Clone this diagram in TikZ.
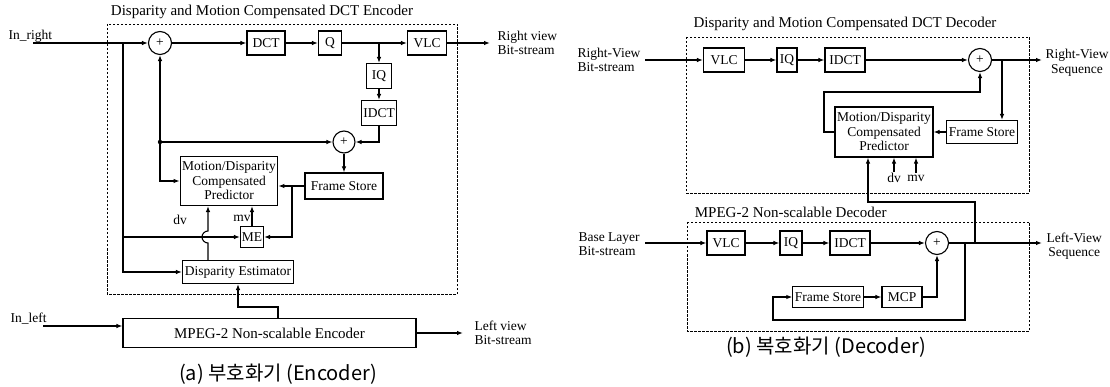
\documentclass[tikz,border=0pt]{standalone}
\usepackage{fontspec}
\setmainfont{Liberation Serif}
\newfontfamily\kor{Noto Sans CJK KR}
\usetikzlibrary{calc, positioning, arrows.meta}

\begin{document}
\begin{tikzpicture}[x=1pt, y=-1pt, >={Latex[length=6pt, width=4.5pt]},
  line width=1.1pt, font=\fontsize{13.5}{14.5}\selectfont,
  blk/.style={draw, inner sep=2pt, minimum height=24pt, align=center},
  sumc/.style={draw, circle, minimum size=23pt, inner sep=0pt},
  grp/.style={draw, line width=0.9pt, dash pattern=on 2.5pt off 1.5pt},
  ttl/.style={font=\fontsize{15}{16}\selectfont},
  lbl/.style={align=left, inner sep=0pt},
  tag/.style={inner sep=1pt},
  capt/.style={font=\kor\fontsize{20}{22}\selectfont}]
  \useasboundingbox (0,0) rectangle (1110,387);

  \node[ttl] (encT) at (262,12) {Disparity and Motion Compensated DCT Encoder};
  \draw[grp] (107,24) rectangle (457,294);

  \node[lbl, anchor=base west] (inRt) at (8,40) {In\_right};
  \coordinate (inR) at (33,43);
  \node[sumc] (sumA) at (160,43) {+};
  \node[blk, minimum width=38pt] (dct) at (266,43) {DCT};
  \node[blk, minimum width=23pt] (q) at (330,43) {Q};
  \node[blk, minimum width=39pt] (vlc) at (427,43) {VLC};
  \coordinate (outR) at (490,43);
  \node[lbl, anchor=west] (outRt) at (497,43) {Right view\\Bit-stream};
  \node[blk, minimum width=25pt, minimum height=25pt] (iq) at (379,76) {IQ};
  \node[blk, minimum width=35pt, minimum height=25pt] (idct) at (379,113) {IDCT};
  \node[sumc, minimum size=22pt] (sumB) at (344,142) {+};
  \node[blk, minimum width=78pt, minimum height=26pt] (fs) at (344,186) {Frame Store};
  \node[blk, minimum width=96pt, minimum height=49pt] (pred) at (229,181)
    {Motion/Disparity\\Compensated\\Predictor};
  \node[blk, minimum width=23pt, minimum height=21pt, inner sep=1pt] (me) at (252,237) {ME};
  \node[blk, minimum width=111pt, minimum height=23pt] (de) at (238,272) {Disparity Estimator};
  \node[tag] (dv) at (180,220) {dv};
  \node[tag] (mv) at (242,218) {mv};

  \node[lbl, anchor=base west] (inLt) at (10,322) {In\_left};
  \coordinate (inL) at (43,326);
  \node[blk, minimum width=293pt, minimum height=29pt, font=\fontsize{15}{16}\selectfont]
    (mpeg) at (269.5,333) {MPEG-2 Non-scalable Encoder};
  \coordinate (outL) at (463,333);
  \node[lbl, anchor=west] (outLt) at (474,333) {Left view\\Bit-stream};

  \draw[->] (inR) -- (sumA);
  \draw[->] (sumA) -- (dct);
  \draw[->] (dct) -- (q);
  \draw[->] (q) -- (vlc);
  \draw[->] (vlc) -- (outR);
  \draw[->] (q.east -| iq) -- (iq);
  \draw[->] (iq) -- (idct);
  \draw[->] (idct) |- (sumB);
  \coordinate (dotA) at (sumA |- sumB);
  \fill (dotA) circle[radius=2.2];
  \draw[->] (dotA) -- (sumB);
  \draw[<->] (sumA) |- (pred.west);
  \draw[->] (sumB) -- (fs);
  \draw[->] (fs) -- (fs.west -| pred.east);
  \coordinate (brA) at (292,186);
  \draw[->] (brA) |- (me);
  \draw[->] (me) -- (me |- pred.south);
  \coordinate (brB) at (123,43);
  \draw[->] (brB) |- (de);
  \draw[->] (brB |- me) -- (me);
  \coordinate (hop) at (208,237);
  \draw[->] (de.north -| hop) -- ($(hop)+(0,6)$) arc[start angle=90, end angle=270, radius=6]
    -- (hop |- pred.south);
  \coordinate (kinkA) at (278,307);
  \draw[->] (mpeg.north -| kinkA) -- (kinkA) -| (de.south);
  \draw[->] (inL) -- (inL -| mpeg.west);
  \draw[->] (mpeg) -- (outL);

  \node[ttl] (decT) at (845,24) {Disparity and Motion Compensated DCT Decoder};
  \draw[grp] (686,37) rectangle (1029,193);
  \node[lbl, anchor=west] (inRVt) at (577,60) {Right-View\\Bit-stream};
  \coordinate (inRV) at (645,60);
  \node[blk, minimum width=41pt] (vlcR) at (724,60) {VLC};
  \node[blk, minimum width=20pt] (iqR) at (787,60) {IQ};
  \node[blk, minimum width=40pt] (idctR) at (845,60) {IDCT};
  \node[sumc] (sumR) at (980,60) {+};
  \coordinate (outRV) at (1042,60);
  \node[lbl, align=center, anchor=west] (outRVt) at (1045,63) {Right-View\\Sequence};
  \node[blk, minimum width=71pt, minimum height=23pt] (fsR) at (982,132) {Frame Store};
  \node[blk, minimum width=98pt, minimum height=50pt] (predR) at (884,132)
    {Motion/Disparity\\Compensated\\Predictor};
  \node[tag] (dvR) at (894,178) {dv};
  \node[tag] (mvR) at (916,178) {mv};

  \draw[->] (inRV) -- (vlcR);
  \draw[->] (vlcR) -- (iqR);
  \draw[->] (iqR) -- (idctR);
  \draw[->] (idctR) -- (sumR);
  \draw[->] (sumR) -- (outRV);
  \coordinate (jR) at (1002,60);
  \draw[->] (jR) -- (jR |- fsR.north);
  \draw[->] (fsR) -- (predR);
  \coordinate (lpR) at (824,92);
  \draw[->] (predR.west) -| (lpR) -| (sumR);
  \draw[->] (dvR) -- (dvR |- predR.south);
  \draw[->] (mvR) -- (mvR |- predR.south);

  \node[ttl, anchor=west] (decT2) at (691,212) {MPEG-2 Non-scalable Decoder};
  \draw[grp] (687,222) rectangle (1029,331);
  \node[lbl, anchor=west] (inBLt) at (578,244) {Base Layer\\Bit-stream};
  \coordinate (inBL) at (645,243);
  \node[blk, minimum width=38pt] (vlcL) at (726,243) {VLC};
  \node[blk, minimum width=22pt] (iqL) at (791,243) {IQ};
  \node[blk, minimum width=40pt] (idctL) at (850,243) {IDCT};
  \node[sumc] (sumL) at (937,243) {+};
  \coordinate (outLV) at (1042,243);
  \node[lbl, align=center, anchor=west] (outLVt) at (1046,246) {Left-View\\Sequence};
  \node[blk, minimum width=69pt, minimum height=21pt] (fsL) at (828,297) {Frame Store};
  \node[blk, minimum width=40pt, minimum height=21pt] (mcp) at (902,297) {MCP};

  \draw[->] (inBL) -- (vlcL);
  \draw[->] (vlcL) -- (iqL);
  \draw[->] (iqL) -- (idctL);
  \draw[->] (idctL) -- (sumL);
  \draw[->] (sumL) -- (outLV);
  \coordinate (jL) at (965,243);
  \coordinate (lpL) at (773,320);
  \draw[->] (jL) |- (lpL) |- (fsL);
  \draw[->] (fsL) -- (mcp);
  \draw[->] (mcp) -| (sumL);
  \coordinate (jL2) at (975,243);
  \coordinate (kR) at (868,202);
  \draw[->] (jL2) |- (kR) -- (kR |- predR.south);

  \node[capt] (capA) at (278,374) {(a) 부호화기 (Encoder)};
  \node[capt] (capB) at (826,347) {(b) 복호화기 (Decoder)};
\end{tikzpicture}
\end{document}
